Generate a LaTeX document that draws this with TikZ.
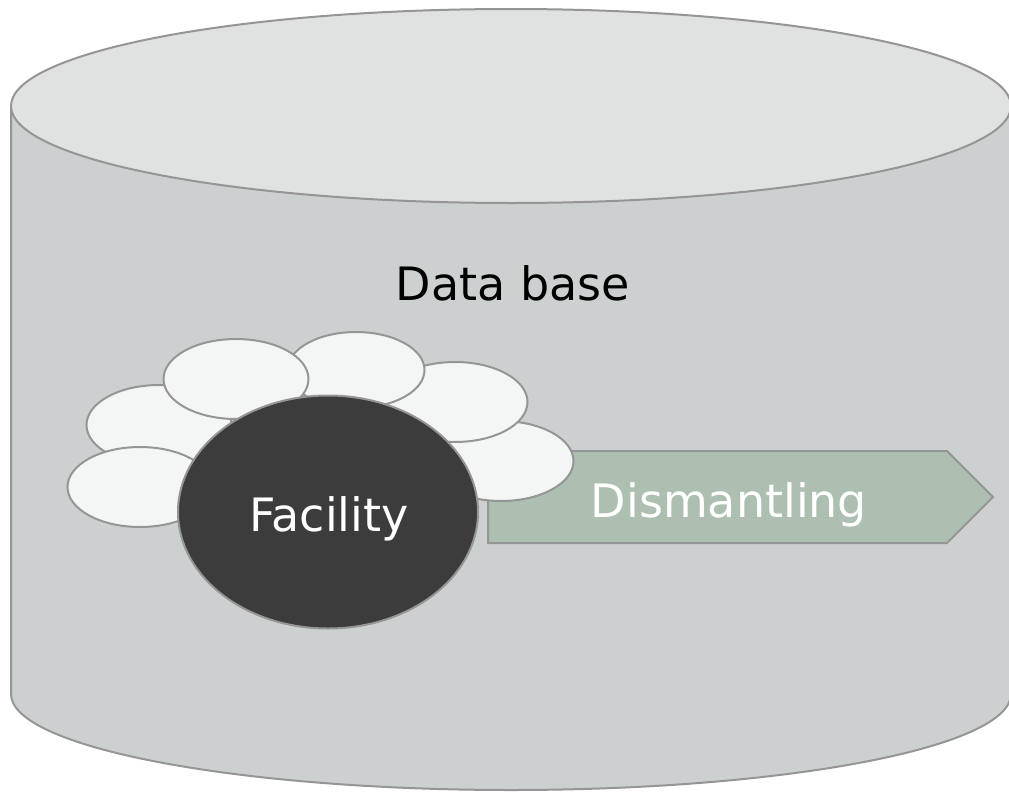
\documentclass[tikz,border=0pt]{standalone}
\usepackage{fontspec}
\setmainfont{DejaVu Sans}
\usetikzlibrary{shapes.geometric}
\definecolor{edgegray}{HTML}{959595}
\definecolor{topfill}{HTML}{E0E1E1}
\definecolor{bodyfill}{HTML}{CDD0D1}
\definecolor{petal}{HTML}{F4F6F5}
\definecolor{darkcore}{HTML}{3C3C3C}
\definecolor{arrowfill}{HTML}{ACBFB0}
\tikzset{
  outline/.style={draw=edgegray, line width=2pt},
  petalnode/.style={outline, fill=petal, ellipse, minimum width=145pt, minimum height=80pt, inner sep=0pt},
  bigtext/.style={font=\fontsize{46}{54}\selectfont, inner sep=0pt},
}
\begin{document}
\begin{tikzpicture}[x=1pt,y=-1pt]
\useasboundingbox (0,0) rectangle (1009,795);
% cylinder body
\path[outline, fill=bodyfill] (11,106) -- (11,694) arc[start angle=180, end angle=0, x radius=500, y radius=96] -- (1011,106) -- cycle;
% top ellipse
\path[outline, fill=topfill] (511,106) ellipse[x radius=500, y radius=97];
\node[bigtext] (db) at (513,283) {Data base};
% arrow
\path[outline, fill=arrowfill] (488,451) -- (947,451) -- (993,497) -- (947,543) -- (488,543) -- cycle;
\node[bigtext, text=white, anchor=base] (dis) at (729,517) {Dismantling};
% petals
\node[petalnode] (p6) at (501,461) {};
\node[petalnode] (p5) at (455,402) {};
\node[petalnode, minimum width=137pt, minimum height=76pt] (p4) at (356,370) {};
\node[petalnode] (p2) at (159,425) {};
\node[petalnode] (p3) at (236,379) {};
\node[petalnode] (p1) at (140,487) {};
% core
\node[outline, fill=darkcore, ellipse, minimum width=300pt, minimum height=233pt, inner sep=0pt] (core) at (328,512) {};
\node[bigtext, text=white, anchor=base] (fac) at (329,531) {Facility};
\end{tikzpicture}
\end{document}
